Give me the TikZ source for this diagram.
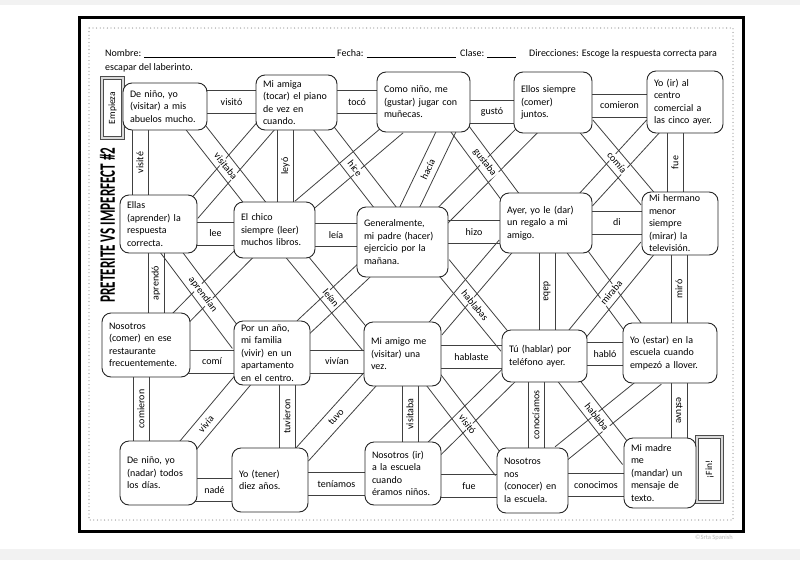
\documentclass[tikz,border=0pt]{standalone}
\usepackage{graphicx}
\usepackage{fontspec}
\setmainfont{Carlito}
\usetikzlibrary{calc, backgrounds}

\newcommand{\blank}[1]{\rule[-1.5pt]{#1pt}{0.5pt}}
% a band: two parallel lines from box to box, verb in the middle
\newcommand{\band}[4][.5]{%
  \draw[bandline] ($(#2)!\mzhalf!90:(#3)$) -- ($(#3)!\mzhalf!-90:(#2)$);
  \draw[bandline] ($(#2)!\mzhalf!-90:(#3)$) -- ($(#3)!\mzhalf!90:(#2)$);
  \path (#2) -- (#3) node[lbl, pos=#1, sloped] {#4};}
\newcommand{\xband}[2]{%
  \draw[bandline] ($(#1)!\mzhalf!90:(#2)$) -- ($(#2)!\mzhalf!-90:(#1)$);
  \draw[bandline] ($(#1)!\mzhalf!-90:(#2)$) -- ($(#2)!\mzhalf!90:(#1)$);}
\newcommand{\vband}[4][90]{%
  \draw[bandline] ($(#2)!\mzhalf!90:(#3)$) -- ($(#3)!\mzhalf!-90:(#2)$);
  \draw[bandline] ($(#2)!\mzhalf!-90:(#3)$) -- ($(#3)!\mzhalf!90:(#2)$);
  \path (#2) -- (#3) node[lbl, midway, rotate=#1] {#4};}

\begin{document}
\begin{tikzpicture}[x=1pt, y=-1pt,
  cell/.style={draw=black!85, line width=0.9pt, rounded corners=9pt, fill=white,
    align=left, inner xsep=7pt, inner ysep=1pt, font=\fontsize{10}{12.5}\selectfont},
  endbox/.style={draw=black!70, line width=0.8pt, double=gray!30, double distance=1.6pt,
    fill=white, inner sep=0pt, font=\fontsize{9.5}{11}\selectfont},
  lbl/.style={font=\fontsize{10}{12}\selectfont, inner sep=1pt, fill=white},
  bandline/.style={draw=black!75, line width=0.8pt, shorten <=-\mzext, shorten >=-\mzext},
  hdr/.style={font=\fontsize{10}{12}\selectfont, inner sep=0pt, anchor=base west},
  dots/.style={gray!80, line width=1.3pt, dash pattern=on 0pt off 3.6pt, line cap=round}]
\useasboundingbox (0,0) rectangle (800,560);
\fill[gray!10] (0,0) rectangle (800,5);
\fill[gray!10] (0,549) rectangle (800,560);
\draw[line width=3pt] (79,17) rectangle (743,531);
\draw[dots] (89,28) rectangle (733,520);

% header
\node[hdr] (nombre) at (105,56) {Nombre: \blank{191}};
\node[hdr] (fecha) at (337,56) {Fecha: \blank{89}};
\node[hdr] (clase) at (460,56) {Clase: \blank{29}};
\node[hdr] (direc) at (529,56) {Direcciones: Escoge la respuesta correcta para};
\node[hdr] (escapar) at (105,70) {escapar del laberinto.};

\node[rotate=90, inner sep=0pt] (title) at (107.5,225)
  {\resizebox{155pt}{15pt}{\bfseries PRETERITE VS IMPERFECT \#2}};
\node[endbox, minimum width=21pt, minimum height=60pt] (start) at (112.5,108) {\rotatebox{90}{Empieza}};
\node[endbox, minimum width=25pt, minimum height=65pt] (fin) at (709.5,469.5) {\rotatebox{90}{¡Fin!}};
\node[font=\fontsize{6.5}{7}\selectfont, text=gray!55, inner sep=0pt] (copy) at (714,538) {©Srta Spanish};

% row 1
\node[cell, text width=70pt, minimum height=47pt] (b11) at (165,106.5) {De niño, yo\\(visitar) a mis\\abuelos mucho.};
\node[cell, text width=67pt, minimum height=55pt] (b12) at (296.5,102.5) {Mi amiga\\(tocar) el piano\\de vez en\\cuando.};
\node[cell, text width=79pt, minimum height=60pt] (b13) at (423.5,102) {Como niño, me\\(gustar) jugar con\\muñecas.};
\node[cell, text width=64pt, minimum height=61pt] (b14) at (553,102.5) {Ellos siempre\\(comer)\\juntos.};
\node[cell, text width=62pt, minimum height=62pt] (b15) at (685,102) {Yo (ir) al\\centro\\comercial a\\las cinco ayer.};
% row 2
\node[cell, text width=63pt, minimum height=58pt] (b21) at (158.5,224) {Ellas\\(aprender) la\\respuesta\\correcta.};
\node[cell, text width=67pt, minimum height=56pt] (b22) at (274.5,230) {El chico\\siempre (leer)\\muchos libros.};
\node[cell, text width=77pt, minimum height=70pt] (b23) at (402.5,242) {Generalmente,\\mi padre (hacer)\\ejercicio por la\\mañana.};
\node[cell, text width=78pt, minimum height=60pt] (b24) at (546,223) {Ayer, yo le (dar)\\un regalo a mi\\amigo.};
\node[cell, text width=62pt, minimum height=63pt] (b25) at (680,223.5) {Mi hermano\\menor\\siempre\\(mirar) la\\televisión.};
% row 3
\node[cell, text width=74pt, minimum height=64pt] (b31) at (146,345) {Nosotros\\(comer) en ese\\restaurante\\frecuentemente.};
\node[cell, text width=62pt, minimum height=64pt] (b32) at (272,353) {Por un año,\\mi familia\\(vivir) en un\\apartamento\\en el centro.};
\node[cell, text width=63pt, minimum height=64pt] (b33) at (402.5,354) {Mi amigo me\\(visitar) una\\vez.};
\node[cell, text width=71pt, minimum height=52pt] (b34) at (544.5,356) {Tú (hablar) por\\teléfono ayer.};
\node[cell, text width=80pt, minimum height=60pt] (b35) at (670,353) {Yo (estar) en la\\escuela cuando\\empezó a llover.};
% row 4
\node[cell, text width=63pt, minimum height=64pt] (b41) at (158.5,473) {De niño, yo\\(nadar) todos\\los días.};
\node[cell, text width=62pt, minimum height=64pt] (b42) at (270,480) {Yo (tener)\\diez años.};
\node[cell, text width=62pt, minimum height=63pt] (b43) at (403,473.5) {Nosotros (ir)\\a la escuela\\cuando\\éramos niños.};
\node[cell, text width=57pt, minimum height=65pt] (b44) at (532.5,480.5) {Nosotros\\nos\\(conocer) en\\la escuela.};
\node[cell, text width=58pt, minimum height=70pt] (b45) at (660,473) {Mi madre\\me\\(mandar) un\\mensaje de\\texto.};

\begin{pgfonlayer}{background}
\def\mzext{10pt}\def\mzhalf{9pt}
% crossing bands without a verb
\xband{b12.219}{b21.26}
\xband{b13.-138}{b22.40}
\xband{b14.-133}{b23.35}
\xband{b15.south west}{b24.north east}
\xband{b22.-141}{b31.39}
\xband{b23.south west}{b32.north east}
\xband{b24.south west}{b33.north east}
\xband{b24.-43}{b35.143}
\xband{b34.south west}{b43.north east}
\xband{b35.-126}{b44.north east}
% diagonal bands
\band{b11.-36}{b22.126}{visitaba}
\band{b12.-44}{b23.117}{hice}
\band{b13.-54}{b23.78}{hacía}
\band{b13.-38}{b24.142}{gustaba}
\band{b14.south east}{b25.north west}{comía}
\band{b21.-65}{b32.155}{aprendían}
\band{b22.-50}{b33.157}{leían}
\band{b23.-34}{b34.157}{hablabas}
\band{b25.south west}{b34.36}{miraba}
\band[.7]{b32.-136}{b41.44}{vivía}
\band{b33.south west}{b42.north east}{tuvo}
\band{b33.-42}{b44.153}{visitó}
\band{b34.-46}{b45.149}{hablaba}
% vertical bands
\def\mzhalf{8pt}
\vband{b11.south -| 140,0}{b21.north -| 140,0}{visité}
\vband{b12.south -| 285.5,0}{b22.north -| 285.5,0}{leyó}
\vband{b15.south -| 675,0}{b25.north -| 675,0}{fue}
\vband{b21.south -| 156,0}{b31.north -| 156,0}{aprendó}
\vband[-90]{b24.south -| 547,0}{b34.north -| 547,0}{daba}
\vband{b25.south -| 679,0}{b35.north -| 679,0}{miró}
\vband{b31.south -| 141,0}{b41.north -| 141,0}{comieron}
\vband{b32.south -| 287,0}{b42.north -| 287,0}{tuvieron}
\vband{b33.south -| 410,0}{b43.north -| 410,0}{visitaba}
\vband{b34.south -| 536,0}{b44.north -| 536,0}{conocíamos}
\vband[-90]{b35.south -| 679.5,0}{b45.north -| 679.5,0}{estuve}
% horizontal bands
\def\mzext{5pt}\def\mzhalf{11.5pt}
\band{b11.east |- 0,102}{b12.west |- 0,102}{visitó}
\band{b12.east |- 0,102}{b13.west |- 0,102}{tocó}
\band{b13.east |- 0,111.5}{b14.west |- 0,111.5}{gustó}
\band{b14.east |- 0,105.5}{b15.west |- 0,105.5}{comieron}
\band{b21.east |- 0,233.5}{b22.west |- 0,233.5}{lee}
\band{b22.east |- 0,235}{b23.west |- 0,235}{leía}
\band{b23.east |- 0,232}{b24.west |- 0,232}{hizo}
\band{b24.east |- 0,222.5}{b25.west |- 0,222.5}{di}
\band{b31.east |- 0,361.5}{b32.west |- 0,361.5}{comí}
\band{b32.east |- 0,361.5}{b33.west |- 0,361.5}{vivían}
\band{b33.east |- 0,357}{b34.west |- 0,357}{hablaste}
\band{b34.east |- 0,354}{b35.west |- 0,354}{habló}
\band{b41.east |- 0,490}{b42.west |- 0,490}{nadé}
\band{b42.east |- 0,484}{b43.west |- 0,484}{teníamos}
\band{b43.east |- 0,486}{b44.west |- 0,486}{fue}
\band{b44.east |- 0,485}{b45.west |- 0,485}{conocimos}
\end{pgfonlayer}
\end{tikzpicture}
\end{document}
